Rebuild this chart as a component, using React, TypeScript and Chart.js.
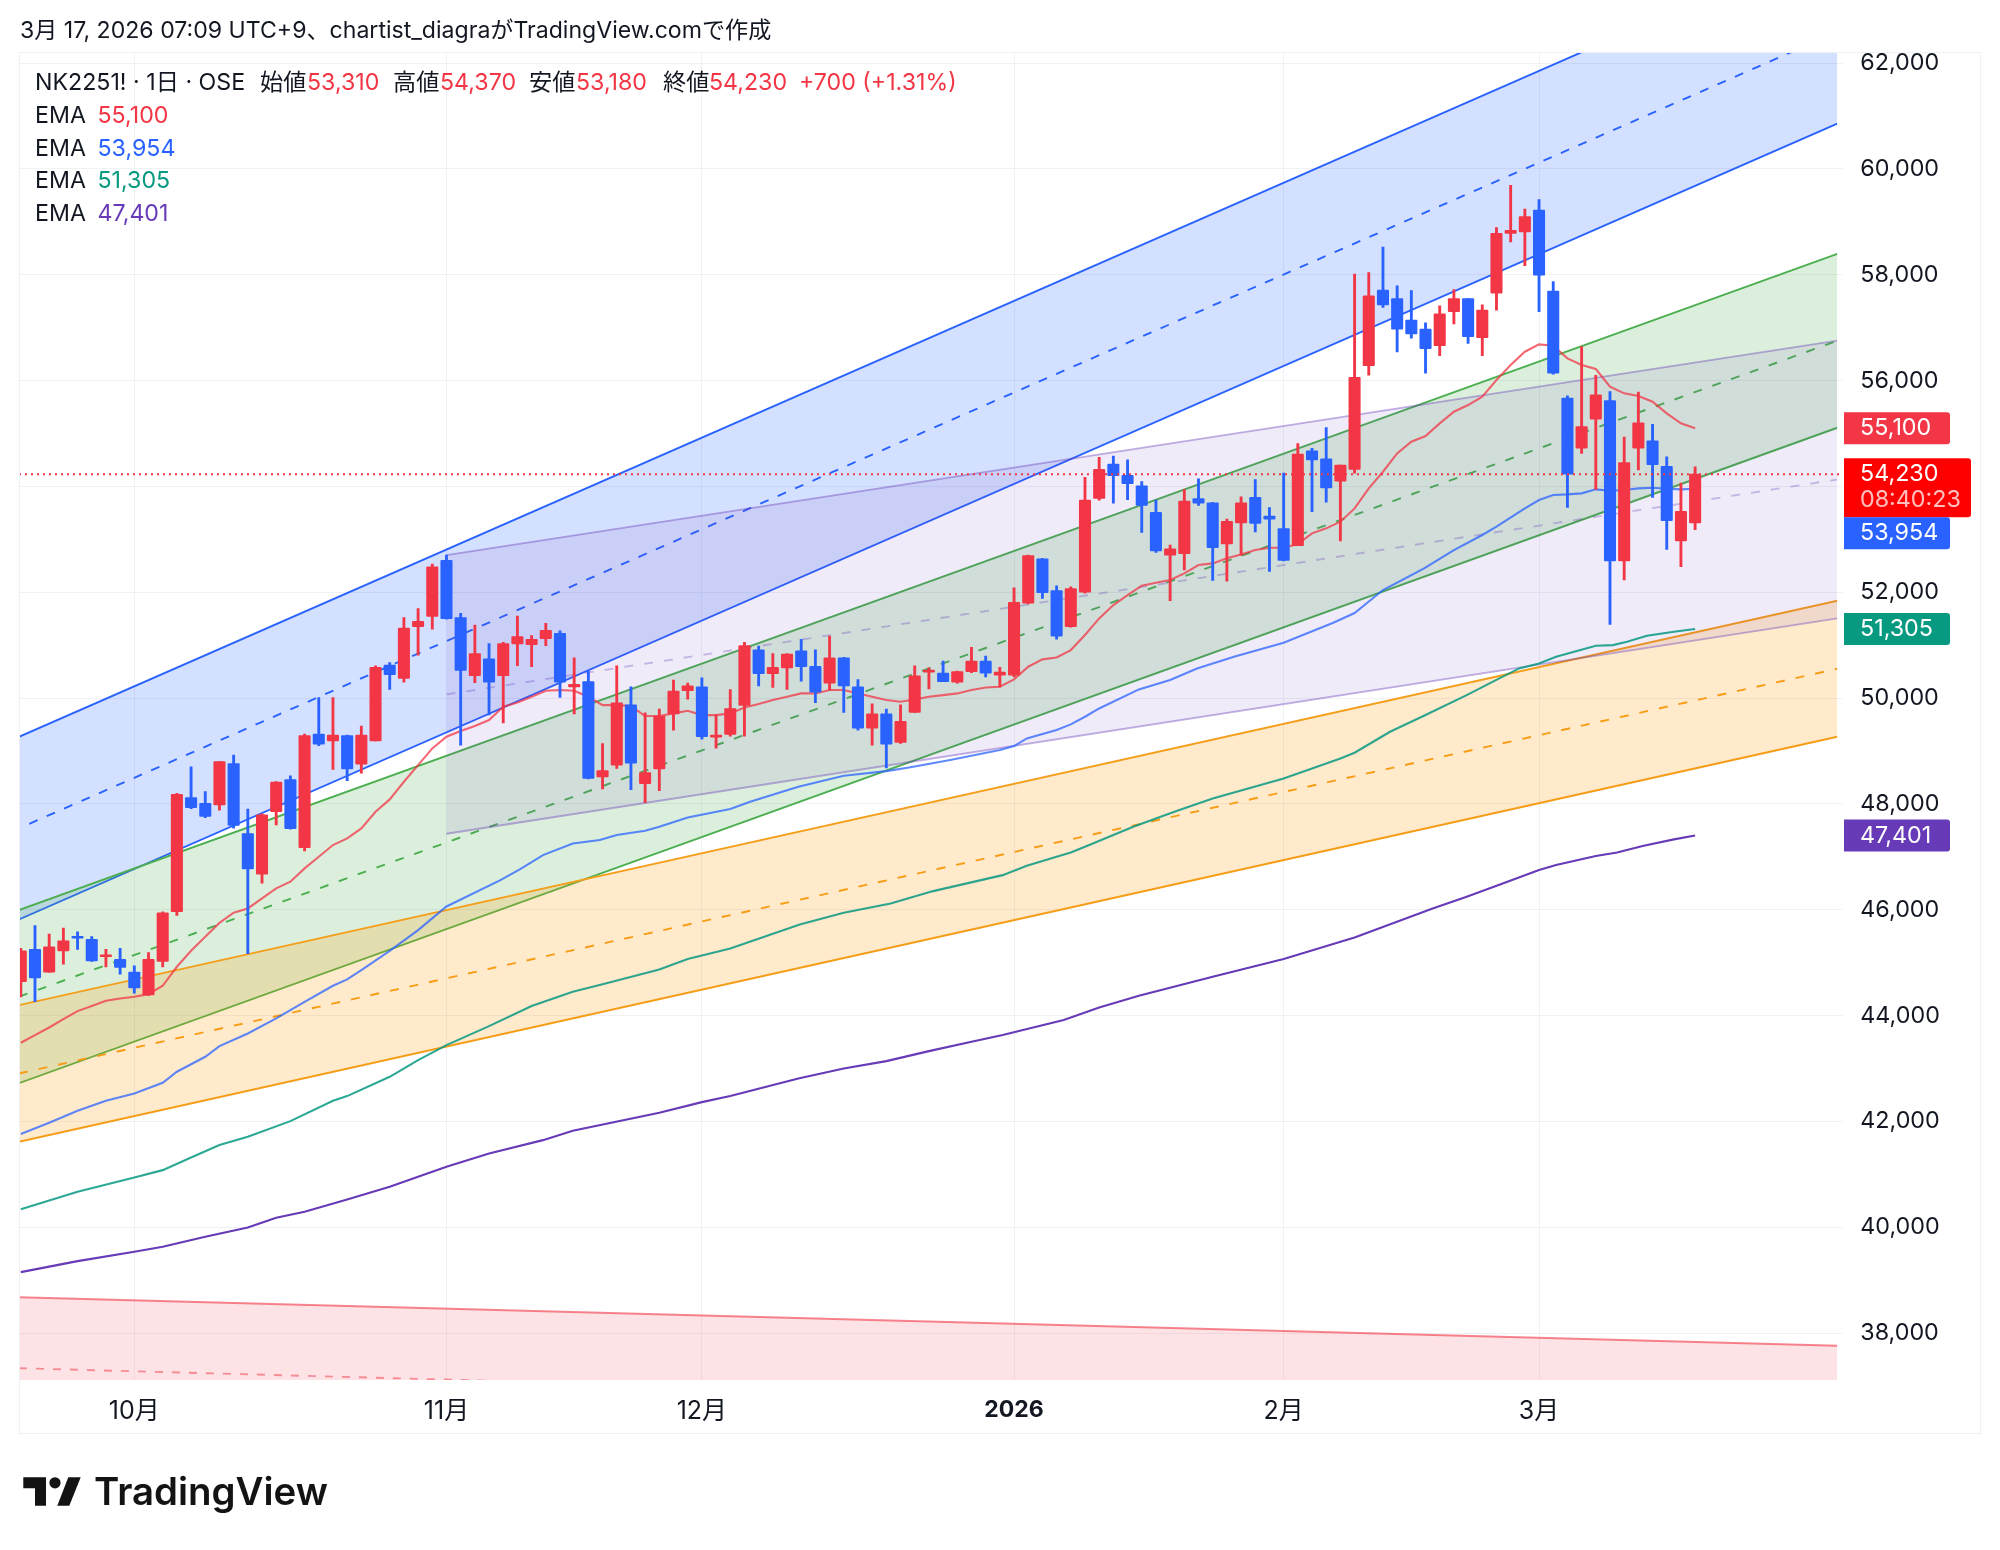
import { useEffect, useRef } from "react";
import { Chart, registerables } from "chart.js";

Chart.register(...registerables);

const opens = [
  44640, 45250, 44820, 45220, 45490, 45440, 45110, 45060, 44820, 44390, 45020, 45960, 48120, 48010, 47980, 48760, 47440, 46670, 47850, 48460,
  47170, 49320, 49190, 49290, 48750, 49190, 50620, 50370, 51350, 51540, 52600, 51520, 50420, 50740, 50420, 51020, 51010, 51120, 51220, 50210,
  50310, 48510, 48730, 49870, 48380, 48660, 49700, 50140, 50210, 49260, 49310, 49860, 50910, 50460, 50570, 50890, 50600, 50280, 50760, 50210,
  49430, 49700, 49160, 49730, 50490, 50470, 50300, 50500, 50700, 50430, 50430, 51790, 52630, 52030, 51350, 52000, 53770, 54420, 54210, 54010,
  53510, 52700, 52730, 53770, 53690, 52910, 53310, 53790, 53440, 53200, 52880, 54670, 54520, 54100, 54320, 56280, 57710, 57550, 57140, 56970,
  56660, 57300, 57550, 56810, 57650, 58780, 58810, 59220, 57690, 55670, 54720, 55270, 55620, 52590, 54720, 54860, 54380, 52970, 53310,
];
const highs = [
  45270, 45700, 45540, 45650, 45580, 45490, 45250, 45270, 44940, 45190, 45960, 48200, 48700, 48230, 48800, 48920, 47900, 47810, 48420, 48530,
  49320, 50010, 50010, 49300, 49470, 50610, 50670, 51520, 51690, 52530, 52700, 51600, 51380, 51030, 51050, 51550, 51180, 51410, 51270, 50760,
  50510, 49140, 50610, 50210, 49720, 49790, 50340, 50280, 50380, 49680, 50160, 51050, 50980, 50840, 50840, 51110, 50910, 51170, 50770, 50350,
  49890, 49790, 49870, 50610, 50570, 50700, 50510, 50960, 50790, 50580, 52080, 52700, 52640, 52120, 52100, 54170, 54550, 54570, 54500, 54090,
  53740, 52890, 53940, 54140, 53700, 53380, 53800, 54130, 53600, 54250, 54810, 54720, 55110, 54400, 58010, 58040, 58520, 57790, 57700, 57090,
  57410, 57720, 57550, 57430, 58890, 59690, 59240, 59420, 57870, 55710, 56640, 56100, 55790, 54930, 55780, 55170, 54560, 54060, 54370,
];
const lows = [
  44350, 44260, 44820, 44970, 45250, 45020, 44920, 44780, 44420, 44380, 44920, 45890, 47910, 47740, 47880, 47540, 45170, 46500, 47600, 47520,
  47110, 49100, 48650, 48440, 48580, 49190, 50160, 50300, 50810, 51300, 51490, 49110, 50290, 49680, 49530, 50610, 50590, 50990, 50010, 49700,
  48470, 48280, 48670, 48270, 48020, 48250, 49390, 49980, 49220, 49050, 49280, 49280, 50230, 50200, 50160, 50320, 49910, 50150, 49730, 49390,
  49110, 48680, 49140, 49730, 50170, 50310, 50280, 50480, 50400, 50210, 50400, 51780, 51880, 51110, 51340, 51980, 53740, 53680, 53750, 53130,
  52750, 51840, 52420, 53640, 52220, 52210, 52700, 53140, 52390, 52590, 52880, 53520, 53700, 52970, 54250, 56100, 57380, 56540, 56800, 56140,
  56470, 57070, 56700, 56470, 57330, 58620, 58170, 57300, 56120, 53600, 54620, 53940, 51390, 52230, 54310, 53790, 52810, 52480, 53180,
];
const closes = [
  45220, 44710, 45300, 45410, 45460, 45030, 45140, 44910, 44520, 45060, 45940, 48180, 47930, 47760, 48800, 47590, 46770, 47790, 48410, 47530,
  49290, 49130, 49300, 48660, 49300, 50580, 50440, 51320, 51450, 52480, 51500, 50520, 50840, 50300, 51030, 51160, 51110, 51280, 50300, 50260,
  48480, 48630, 49910, 48770, 48590, 49660, 50130, 50230, 49270, 49290, 49800, 50990, 50460, 50580, 50830, 50590, 50110, 50760, 50230, 49430,
  49700, 49130, 49560, 50420, 50520, 50310, 50500, 50700, 50470, 50490, 51810, 52690, 51990, 51170, 52070, 53740, 54320, 54200, 54050, 53640,
  52780, 52820, 53720, 53680, 52840, 53340, 53690, 53300, 53380, 52600, 54610, 54500, 53970, 54400, 56060, 57600, 57430, 56970, 56880, 56600,
  57260, 57550, 56830, 57330, 58780, 58840, 59100, 57990, 56140, 54230, 55130, 55730, 52590, 54450, 55200, 54410, 53350, 53530, 54230,
];

// EMA lines
const emaRed = [
  43485, 43630, 43774, 43930, 44083, 44180, 44278, 44322, 44354, 44404, 44562, 44921, 45223, 45488, 45750, 45942, 46023, 46213, 46402, 46528,
  46780, 47000, 47221, 47346, 47536, 47850, 48084, 48417, 48732, 49047, 49268, 49375, 49470, 49583, 49835, 49917, 50024, 50137, 50150, 50137,
  50024, 49866, 49866, 49848, 49659, 49659, 49709, 49760, 49677, 49677, 49709, 49822, 49885, 49961, 50024, 50087, 50087, 50150, 50150, 50087,
  50024, 49961, 49929, 49973, 50024, 50055, 50087, 50150, 50200, 50213, 50352, 50591, 50730, 50767, 50906, 51190, 51505, 51757, 51945, 52122,
  52179, 52229, 52355, 52513, 52544, 52639, 52714, 52796, 52840, 52840, 52909, 53111, 53206, 53331, 53583, 53962, 54276, 54623, 54843, 54950,
  55190, 55410, 55536, 55694, 56009, 56292, 56544, 56683, 56658, 56418, 56292, 56217, 55883, 55757, 55707, 55600, 55379, 55190, 55100,
];
const emaBlueBars = [0, 2, 4, 6, 8, 10, 11, 13, 14, 16, 18, 20, 22, 23, 24, 26, 28, 30, 33.8, 35.2, 36.8, 38.9, 40.8, 42, 44, 45, 47, 50, 51.4, 54.8, 58, 61, 62.6, 65.5, 69, 70, 70.9, 73, 74, 75, 76, 78.8, 81, 82.9, 85.5, 89, 92.5, 94, 96, 98.9, 101, 103, 104, 106, 107, 108, 109, 110, 111, 112, 113, 114, 115, 116, 117, 118];
const emaBlue = [41759, 41973, 42199, 42388, 42527, 42729, 42937, 43220, 43422, 43661, 43945, 44259, 44562, 44682, 44858, 45223, 45614, 46060, 46559, 46767, 47031, 47252, 47315, 47410, 47491, 47567, 47743, 47901, 48040, 48323, 48531, 48619, 48688, 48827, 49016, 49092, 49236, 49394, 49501, 49646, 49803, 50163, 50339, 50559, 50780, 51045, 51423, 51605, 52040, 52449, 52796, 53080, 53237, 53584, 53741, 53836, 53848, 53867, 53943, 53918, 53930, 53962, 53974, 53955, 53943, 53954];
const emaGreenBars = [0, 4, 8, 10, 12, 14, 16, 19, 22, 23, 26, 28, 30, 33, 36, 38.9, 40.8, 45, 47, 50, 52.6, 54.9, 58, 61.3, 64.3, 69.2, 70.9, 73, 74, 75, 78.4, 81.5, 84, 89, 93, 94, 96.5, 99, 101.9, 104.2, 105.6, 107, 108.2, 111, 112.2, 113.2, 114.6, 116.5, 118];
const emaGreen = [40341, 40669, 40939, 41078, 41317, 41551, 41708, 42004, 42388, 42477, 42842, 43157, 43440, 43800, 44178, 44449, 44575, 44871, 45066, 45267, 45507, 45721, 45942, 46118, 46351, 46653, 46830, 47000, 47082, 47189, 47567, 47869, 48102, 48480, 48858, 48966, 49362, 49678, 50055, 50370, 50559, 50654, 50780, 50988, 51000, 51063, 51177, 51252, 51305];
const emaPurpleBars = [0, 4, 8, 10, 13, 16, 18, 20, 23, 26, 30, 33, 36.8, 38.9, 45, 48, 50, 54.8, 58, 61, 64, 67, 69.2, 73.5, 76, 78.8, 84, 89, 94, 99.5, 101.9, 104.2, 107, 108.2, 111, 112.5, 114.3, 116.5, 118];
const emaPurple = [39150, 39358, 39534, 39629, 39818, 39995, 40177, 40290, 40524, 40763, 41141, 41393, 41645, 41821, 42162, 42363, 42477, 42810, 42999, 43138, 43327, 43503, 43630, 43913, 44152, 44373, 44732, 45066, 45475, 46023, 46244, 46470, 46748, 46843, 47013, 47082, 47202, 47328, 47401];

// channel ends: [left, right] in price
const channelBars = [-0.127, 128.02];
const blueUpper = [49267, 64320];
const blueLower = [45816, 60853];
const blueMidBars = [0.6, 128.02];
const blueMid = [47623, 62586];
const greenUpper = [45992, 58394];
const greenLower = [42722, 55107];
const greenMid = [44357, 56750];
const orangeUpper = [44196, 51837];
const orangeLower = [41615, 49267];
const orangeMid = [42905, 50552];
const purpleBars = [30, 128.02];
const purpleUpper = [52701, 56753];
const purpleLower = [47434, 51505];
const purpleMid = [50068, 54129];
const redUpper = [38677, 37759];
const redLower = [35993, 35075];
const redMid = [37335, 36417];

const lastPrice = 54230;
const priceTicks = [38000, 40000, 42000, 44000, 46000, 48000, 50000, 52000, 54000, 56000, 58000, 60000, 62000];
const monthBars = [8, 30, 48, 70, 89, 107];
const monthLabels = ["10月", "11月", "12月", "2026", "2月", "3月"];
const badgeValues = [55100, 54230, 53954, 51305, 47401];

const RED = "#f23645";
const BLUE = "#2962ff";
const GREEN = "#089981";
const PURPLE = "#673ab7";
const INK = "#131722";
const GRID = "#f0f1f4";
const FONT = 'Inter, "Noto Sans CJK JP", sans-serif';

const pts = (xs: number[], ys: number[]) => ys.map((y, i) => ({ x: xs[i], y }));
const allBars = opens.map((_, i) => i);

const line = (data: any[], color: string, extra: any = {}) => ({
  type: "line" as const,
  data,
  borderColor: color,
  borderWidth: 1.9,
  pointRadius: 0,
  tension: 0,
  fill: false,
  ...extra,
});

const overlay = {
  id: "overlay",
  afterDraw(chart: any) {
    const { ctx } = chart;
    const y = chart.scales.y;
    ctx.save();
    ctx.textBaseline = "middle";
    ctx.textAlign = "left";

    // outer frame
    ctx.strokeStyle = GRID;
    ctx.lineWidth = 1;
    ctx.strokeRect(19.5, 52.5, 1961, 1381);

    // header
    ctx.font = `23.1px ${FONT}`;
    ctx.fillStyle = INK;
    ctx.fillText("3月 17, 2026 07:09 UTC+9、chartist_diagraがTradingView.comで作成", 20, 31);

    // ohlc legend
    const rowA: [string, string, number][] = [
      ["NK2251! · 1日 · OSE", INK, 35],
      ["始値", INK, 260],
      ["53,310", RED, 307],
      ["高値", INK, 393],
      ["54,370", RED, 440],
      ["安値", INK, 529],
      ["53,180", RED, 576],
      ["終値", INK, 663],
      ["54,230", RED, 709],
      ["+700 (+1.31%)", RED, 799],
    ];
    ctx.font = `23.2px ${FONT}`;
    rowA.forEach(([t, c, x]) => {
      ctx.fillStyle = c;
      ctx.fillText(t, x, 83);
    });
    const rowColors = [RED, BLUE, GREEN, PURPLE];
    [55100, 53954, 51305, 47401].forEach((v, i) => {
      const ty = 116 + i * 32.7;
      ctx.fillStyle = INK;
      ctx.fillText("EMA", 35, ty);
      ctx.fillStyle = rowColors[i];
      ctx.fillText(v.toLocaleString("en-US"), 97.5, ty);
    });

    // price badges on the axis, pushed down when they would overlap
    const badgeColors = [RED, "#ff0000", BLUE, GREEN, PURPLE];
    let prevBottom = 0;
    ctx.font = `23.3px ${FONT}`;
    badgeValues.forEach((v, i) => {
      const isLast = v === lastPrice;
      const h = isLast ? 59 : 32;
      const w = isLast ? 127 : 106;
      let top = y.getPixelForValue(v) - 16;
      if (top < prevBottom) top = prevBottom;
      ctx.fillStyle = badgeColors[i];
      ctx.beginPath();
      ctx.roundRect(1844, top, w, h, [0, 3, 3, 0]);
      ctx.fill();
      ctx.fillStyle = "#ffffff";
      ctx.fillText(v.toLocaleString("en-US"), 1860, top + 16);
      if (isLast) {
        ctx.fillStyle = "rgba(255,255,255,0.75)";
        ctx.fillText("08:40:23", 1860, top + 42);
      }
      prevBottom = top + h;
    });

    // logo
    ctx.fillStyle = "#131313";
    const poly = (p: number[][]) => {
      ctx.beginPath();
      p.forEach(([a, b], i) => (i ? ctx.lineTo(a, b) : ctx.moveTo(a, b)));
      ctx.closePath();
      ctx.fill();
    };
    poly([[23.3, 1477.3], [46, 1477.3], [46, 1505.7], [35, 1505.7], [35, 1488.3], [23.3, 1488.3]]);
    poly([[68.3, 1477.3], [80.7, 1477.3], [69.3, 1505.7], [57.3, 1505.7]]);
    ctx.beginPath();
    ctx.arc(55, 1482.8, 5.6, 0, Math.PI * 2);
    ctx.fill();
    ctx.textBaseline = "alphabetic";
    ctx.font = `600 38.4px ${FONT}`;
    ctx.fillText("TradingView", 94, 1505);
    ctx.restore();
  },
};

export default function App() {
  const canvasRef = useRef<HTMLCanvasElement | null>(null);

  useEffect(() => {
    if (!canvasRef.current) return;
    document.body.style.margin = "0";

    const candleColors = opens.map((o, i) => (closes[i] >= o ? RED : BLUE));

    const chart = new Chart(canvasRef.current, {
      type: "bar",
      data: {
        datasets: [
          // first dataset ends up on top
          line(pts([-0.127, 128.35], [lastPrice, lastPrice]), "#f23645", { borderWidth: 2, borderDash: [2, 4], clip: false }),
          {
            data: opens.map((o, i) => ({ x: i, y: [o, closes[i]] })),
            backgroundColor: candleColors,
            barThickness: 11.4,
            grouped: false,
            minBarLength: 2,
            borderRadius: 1,
            borderSkipped: false,
          },
          {
            data: lows.map((l, i) => ({ x: i, y: [l, highs[i]] })),
            backgroundColor: candleColors,
            barThickness: 2.2,
            grouped: false,
          },
          line(pts(allBars, emaRed), "rgba(242,54,69,0.75)", { borderWidth: 2.1 }),
          line(pts(emaBlueBars, emaBlue), "rgba(41,98,255,0.75)", { borderWidth: 2.1 }),
          line(pts(emaGreenBars, emaGreen), "rgba(8,153,129,0.85)", { borderWidth: 2.1 }),
          line(pts(emaPurpleBars, emaPurple), PURPLE, { borderWidth: 2.1 }),

          line(pts(purpleBars, purpleUpper), "rgba(103,58,183,0.4)", { fill: "+1", backgroundColor: "rgba(103,58,183,0.1)" }),
          line(pts(purpleBars, purpleLower), "rgba(103,58,183,0.4)"),
          line(pts(purpleBars, purpleMid), "rgba(103,58,183,0.3)", { borderDash: [9, 11] }),

          line(pts(channelBars, orangeUpper), "#f59e1a", { fill: "+1", backgroundColor: "rgba(255,152,0,0.2)" }),
          line(pts(channelBars, orangeLower), "#f59e1a"),
          line(pts(channelBars, orangeMid), "#f59e1a", { borderDash: [9, 11] }),

          line(pts(channelBars, greenUpper), "#4caf50", { fill: "+1", backgroundColor: "rgba(76,175,80,0.2)" }),
          line(pts(channelBars, greenLower), "#4caf50"),
          line(pts(channelBars, greenMid), "#4caf50", { borderDash: [9, 11] }),

          line(pts(channelBars, blueUpper), BLUE, { fill: "+1", backgroundColor: "rgba(41,98,255,0.2)" }),
          line(pts(channelBars, blueLower), BLUE),
          line(pts(blueMidBars, blueMid), BLUE, { borderDash: [9, 10] }),

          line(pts(channelBars, redUpper), "rgba(242,54,69,0.6)", { fill: "+1", backgroundColor: "rgba(242,54,69,0.14)" }),
          line(pts(channelBars, redLower), "rgba(242,54,69,0.6)"),
          line(pts(channelBars, redMid), "rgba(242,54,69,0.5)", { borderDash: [8, 9] }),
        ] as any,
      },
      options: {
        animation: false,
        responsive: false,
        layout: { padding: { left: 19, top: 52, right: 20, bottom: 117 } },
        plugins: {
          legend: { display: false },
          tooltip: { enabled: false },
          title: { display: false },
        },
        scales: {
          x: {
            type: "linear",
            min: -0.127,
            max: 128.02,
            offset: false,
            grid: { color: GRID, offset: false, drawTicks: false },
            border: { display: false },
            afterBuildTicks: (s: any) => {
              s.ticks = monthBars.map((value) => ({ value }));
            },
            afterFit: (s: any) => {
              s.height = 53;
            },
            ticks: {
              autoSkip: false,
              maxRotation: 0,
              padding: 16,
              color: INK,
              callback: (v: any) => monthLabels[monthBars.indexOf(Number(v))],
              font: (c: any) =>
                c.tick && c.tick.value === 70
                  ? { family: FONT, size: 23, weight: "bold" }
                  : { family: FONT, size: 25 },
            },
          },
          y: {
            type: "linear",
            position: "right",
            min: 37112,
            max: 62208,
            grid: { color: GRID, tickLength: 5 },
            border: { display: false },
            afterBuildTicks: (s: any) => {
              s.ticks = priceTicks.map((value) => ({ value }));
            },
            afterFit: (s: any) => {
              s.width = 142.7;
            },
            ticks: {
              autoSkip: false,
              padding: 18,
              color: INK,
              font: { family: FONT, size: 23.3 },
              callback: (v: any) => Number(v).toLocaleString("en-US"),
            },
          },
        },
      } as any,
      plugins: [overlay],
    });

    return () => {
      chart.destroy();
    };
  }, []);

  return (
    <div style={{ position: "absolute", left: 0, top: 0, width: 2000, height: 1550, background: "#fff" }}>
      <canvas ref={canvasRef} width={2000} height={1550} style={{ display: "block" }} />
    </div>
  );
}
